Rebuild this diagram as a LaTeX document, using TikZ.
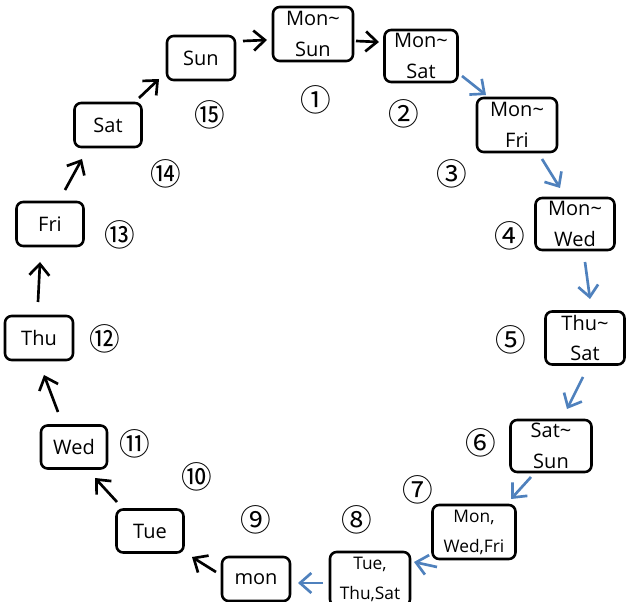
\documentclass[tikz,border=0pt]{standalone}
\usepackage{fontspec}
\setmainfont{Open Sans}
\newfontfamily\cjknum{Noto Sans CJK JP}
\usetikzlibrary{arrows.meta}
\definecolor{arrblue}{RGB}{79,129,189}
\tikzset{
  box/.style={draw, line width=1.9pt, rounded corners=5pt, inner sep=0pt, align=center,
    font=\fontsize{15}{23}\selectfont},
  smallbox/.style={box, font=\fontsize{13}{22.5}\selectfont},
  sz/.style 2 args={minimum width=#1*0.75pt, minimum height=#2*0.75pt},
  num/.style={inner sep=0pt, font=\cjknum\fontsize{23}{23}\selectfont},
  blk/.style={line width=2pt, -{Straight Barb[length=8.5pt,width=15pt]}},
  blu/.style={blk, draw=arrblue},
}
\newcommand{\tld}{\textasciitilde}
\begin{document}
\begin{tikzpicture}[x=0.75pt,y=-0.75pt]
\useasboundingbox (0,0) rectangle (629,602);
% boxes
\node[box, sz={80}{54}] (ms) at (313,34) {Mon\tld\\Sun};
\node[box, sz={73}{52}] (msa) at (421,56) {Mon\tld\\Sat};
\node[box, sz={80}{54}] (mf) at (517,125) {Mon\tld\\Fri};
\node[box, sz={79}{52}] (mw) at (575,224) {Mon\tld\\Wed};
\node[box, sz={79}{53}] (ts) at (585,338) {Thu\tld\\Sat};
\node[box, sz={81}{52}] (ss) at (551,446) {Sat\tld\\Sun};
\node[smallbox, sz={83}{54}] (mwf) at (474,532) {Mon,\\Wed,Fri};
\node[smallbox, sz={80}{54}] (tts) at (370,579) {Tue,\\Thu,Sat};
\node[box, sz={68}{44}] (mon) at (256,579) {mon};
\node[box, sz={67}{43}] (tue) at (150,531) {Tue};
\node[box, sz={66}{43}] (wed) at (74,447) {Wed};
\node[box, sz={68}{44}] (thu) at (39,338) {Thu};
\node[box, sz={67}{44}] (fri) at (50,224) {Fri};
\node[box, sz={67}{44}] (sat) at (108,125) {Sat};
\node[box, sz={68}{44}] (sun) at (201,58) {Sun};
% numbers
\node[num] (n1) at (316,100) {①};
\node[num] (n2) at (404,114) {②};
\node[num] (n3) at (452,174) {③};
\node[num] (n4) at (510,236) {④};
\node[num] (n5) at (511,340) {⑤};
\node[num] (n6) at (481,443) {⑥};
\node[num] (n7) at (418,490) {⑦};
\node[num] (n8) at (357,520) {⑧};
\node[num] (n9) at (256,520) {⑨};
\node[num] (n10) at (197,477) {⑩};
\node[num] (n11) at (135,444) {⑪};
\node[num] (n12) at (105,339) {⑫};
\node[num] (n13) at (120,235) {⑬};
\node[num] (n14) at (166,174) {⑭};
\node[num] (n15) at (210,115) {⑮};
% arrow end points
\coordinate (a1s) at (243,41);  \coordinate (a1e) at (267,40);
\coordinate (a2s) at (356,41);  \coordinate (a2e) at (379,42);
\coordinate (a3s) at (462,76);  \coordinate (a3e) at (486,95);
\coordinate (a4s) at (542,159); \coordinate (a4e) at (560,188);
\coordinate (a5s) at (585,262); \coordinate (a5e) at (590,299);
\coordinate (a6s) at (583,377); \coordinate (a6e) at (567,409);
\coordinate (a7s) at (531,477); \coordinate (a7e) at (511,499);
\coordinate (a8s) at (437,567); \coordinate (a8e) at (414,562);
\coordinate (a9s) at (323,583); \coordinate (a9e) at (298,583);
\coordinate (a10s) at (216,572); \coordinate (a10e) at (192,557);
\coordinate (a11s) at (117,502); \coordinate (a11e) at (95,478);
\coordinate (a12s) at (58,412);  \coordinate (a12e) at (44,375);
\coordinate (a13s) at (38,302);  \coordinate (a13e) at (40,262);
\coordinate (a14s) at (65,190);  \coordinate (a14e) at (82,159);
\coordinate (a15s) at (139,98);  \coordinate (a15e) at (159,79);
% arrows
\draw[blk] (a1s) -- (a1e);
\draw[blk] (a2s) -- (a2e);
\draw[blu] (a3s) -- (a3e);
\draw[blu] (a4s) -- (a4e);
\draw[blu] (a5s) -- (a5e);
\draw[blu] (a6s) -- (a6e);
\draw[blu] (a7s) -- (a7e);
\draw[blu] (a8s) -- (a8e);
\draw[blu] (a9s) -- (a9e);
\draw[blk] (a10s) -- (a10e);
\draw[blk] (a11s) -- (a11e);
\draw[blk] (a12s) -- (a12e);
\draw[blk] (a13s) -- (a13e);
\draw[blk] (a14s) -- (a14e);
\draw[blk] (a15s) -- (a15e);
\end{tikzpicture}
\end{document}
